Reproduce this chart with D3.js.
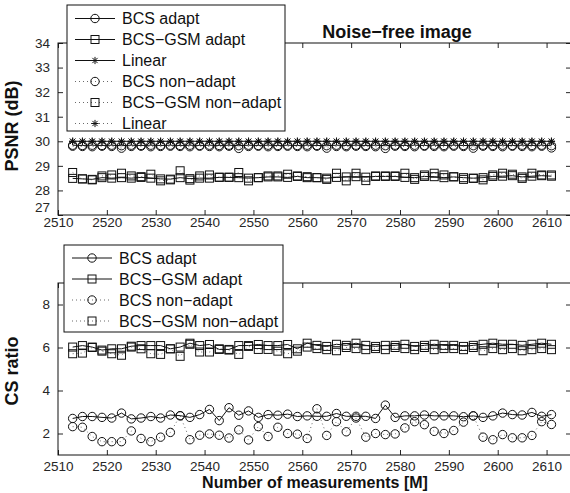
<!DOCTYPE html>
<html lang="en">
<head>
    <meta charset="UTF-8">
    <title>Noise-free image</title>
    <script src="https://d3js.org/d3.v7.min.js"></script>
    <style>
        body {
            margin: 0;
            padding: 0;
            background-color: #fff;
            font-family: "Liberation Sans", Arial, Helvetica, sans-serif;
        }
        svg { display: block; }
        .tick text { font-size: 13.5px; fill: #262626; }
        .tick line { stroke: #262626; }
        .axis-label { font-weight: bold; fill: #111; }
        .legend-text { font-size: 16px; fill: #111; }
    </style>
</head>
<body>
    <div id="chart"></div>

    <script>
        // Measurement counts M (x axis)
        const measurements = [2513, 2515, 2517, 2519, 2521, 2523, 2525, 2527, 2529, 2531,
            2533, 2535, 2537, 2539, 2541, 2543, 2545, 2547, 2549, 2551,
            2553, 2555, 2557, 2559, 2561, 2563, 2565, 2567, 2569, 2571,
            2573, 2575, 2577, 2579, 2581, 2583, 2585, 2587, 2589, 2591,
            2593, 2595, 2597, 2599, 2601, 2603, 2605, 2607, 2609, 2611];

        // PSNR (dB) panel
        const psnrBcsAdapt = [29.84, 29.83, 29.84, 29.83, 29.84, 29.82, 29.84, 29.83, 29.84, 29.83,
            29.84, 29.83, 29.84, 29.83, 29.84, 29.83, 29.84, 29.82, 29.84, 29.83,
            29.84, 29.83, 29.84, 29.83, 29.84, 29.83, 29.82, 29.84, 29.83, 29.84,
            29.83, 29.84, 29.82, 29.84, 29.83, 29.84, 29.83, 29.84, 29.83, 29.84,
            29.83, 29.82, 29.84, 29.83, 29.84, 29.83, 29.84, 29.83, 29.84, 29.82];
        const psnrGsmAdapt = [28.49, 28.47, 28.45, 28.52, 28.50, 28.52, 28.50, 28.53, 28.50, 28.47,
            28.46, 28.52, 28.48, 28.50, 28.50, 28.53, 28.53, 28.52, 28.50, 28.52,
            28.55, 28.55, 28.53, 28.57, 28.52, 28.52, 28.50, 28.53, 28.55, 28.56,
            28.54, 28.57, 28.57, 28.57, 28.53, 28.52, 28.57, 28.56, 28.52, 28.55,
            28.52, 28.50, 28.52, 28.57, 28.58, 28.60, 28.55, 28.58, 28.60, 28.58];
        const psnrLinear = [30, 30, 30, 30, 30, 30, 30, 30, 30, 30,
            30, 30, 30, 30, 30, 30, 30, 30, 30, 30,
            30, 30, 30, 30, 30, 30, 30, 30, 30, 30,
            30, 30, 30, 30, 30, 30, 30, 30, 30, 30,
            30, 30, 30, 30, 30, 30, 30, 30, 30, 30];
        const psnrBcsNon = [29.80, 29.79, 29.78, 29.80, 29.79, 29.72, 29.79, 29.80, 29.78, 29.79,
            29.80, 29.79, 29.78, 29.80, 29.79, 29.78, 29.80, 29.71, 29.79, 29.80,
            29.78, 29.79, 29.80, 29.79, 29.78, 29.80, 29.72, 29.79, 29.78, 29.80,
            29.79, 29.78, 29.71, 29.80, 29.79, 29.78, 29.80, 29.79, 29.78, 29.80,
            29.79, 29.72, 29.80, 29.79, 29.78, 29.80, 29.79, 29.78, 29.80, 29.73];
        const psnrGsmNon = [28.73, 28.47, 28.43, 28.59, 28.63, 28.70, 28.59, 28.56, 28.66, 28.39,
            28.43, 28.80, 28.42, 28.59, 28.63, 28.54, 28.54, 28.73, 28.39, 28.52,
            28.59, 28.59, 28.66, 28.59, 28.56, 28.52, 28.45, 28.70, 28.39, 28.70,
            28.40, 28.59, 28.59, 28.59, 28.70, 28.45, 28.63, 28.70, 28.63, 28.56,
            28.45, 28.49, 28.43, 28.63, 28.70, 28.66, 28.49, 28.70, 28.63, 28.63];
        const psnrLinearNon = [30, 30, 30, 30, 30, 30, 30, 30, 30, 30,
            30, 30, 30, 30, 30, 30, 30, 30, 30, 30,
            30, 30, 30, 30, 30, 30, 30, 30, 30, 30,
            30, 30, 30, 30, 30, 30, 30, 30, 30, 30,
            30, 30, 30, 30, 30, 30, 30, 30, 30, 30];

        // CS ratio panel
        const csBcsAdapt = [2.70, 2.79, 2.79, 2.75, 2.72, 2.95, 2.68, 2.72, 2.79, 2.72,
            2.86, 2.83, 2.75, 2.88, 3.12, 2.60, 3.20, 2.85, 3.05, 2.75,
            2.88, 2.85, 2.90, 2.79, 2.82, 2.80, 2.80, 2.93, 2.80, 2.80,
            2.80, 2.70, 3.32, 2.75, 2.82, 2.82, 2.86, 2.82, 2.82, 2.82,
            2.78, 2.82, 2.75, 2.82, 2.95, 2.88, 2.86, 2.98, 2.80, 2.88];
        const csGsmAdapt = [6.02, 6.09, 6.02, 5.88, 5.94, 5.94, 6.06, 6.09, 6.09, 6.09,
            5.94, 6.02, 6.20, 6.09, 6.14, 5.91, 5.91, 6.09, 6.09, 6.14,
            6.09, 6.09, 6.14, 5.94, 6.20, 6.10, 6.05, 6.15, 6.10, 6.20,
            6.10, 6.05, 6.10, 6.10, 6.15, 6.05, 6.10, 6.15, 6.10, 6.10,
            6.05, 6.10, 6.15, 6.20, 6.15, 6.15, 6.10, 6.15, 6.20, 6.15];
        const csBcsNon = [2.32, 2.29, 1.86, 1.62, 1.62, 1.62, 2.12, 1.77, 1.62, 1.83,
            2.05, 2.82, 1.71, 1.92, 1.98, 1.92, 1.79, 2.17, 1.70, 2.32,
            1.86, 2.29, 2.00, 1.97, 1.77, 3.15, 1.91, 2.55, 2.08, 2.72,
            1.83, 2.00, 1.95, 1.98, 2.26, 2.55, 2.41, 2.10, 2.00, 2.14,
            2.53, 2.82, 1.83, 1.71, 1.95, 1.80, 1.80, 1.91, 2.55, 2.42];
        const csGsmNon = [5.71, 5.74, 6.00, 5.83, 5.71, 5.64, 6.02, 5.94, 5.71, 5.68,
            5.94, 5.59, 6.15, 5.79, 5.79, 5.94, 5.88, 5.68, 6.05, 5.91,
            5.91, 5.83, 5.71, 5.83, 6.02, 5.95, 5.90, 5.85, 6.00, 5.95,
            5.90, 5.95, 5.90, 6.00, 5.95, 5.90, 6.00, 5.90, 5.95, 5.95,
            5.90, 6.00, 5.85, 5.95, 5.90, 5.95, 5.85, 5.90, 5.95, 5.90];

        const psnrTicks = [27, 28, 29, 30, 31, 32, 33, 34];
        const csTicks = [2, 4, 6, 8];
        const xTicks = [2510, 2520, 2530, 2540, 2550, 2560, 2570, 2580, 2590, 2600, 2610];

        const W = 570, H = 493;
        const svg = d3.select("#chart").append("svg")
            .attr("width", W)
            .attr("height", H);

        const x = d3.scaleLinear().domain([2510, 2615]).range([58, 571]);

        // marker shapes
        function drawMarker(g, type, cx, cy) {
            if (type === "circle") {
                g.append("circle").attr("cx", cx).attr("cy", cy).attr("r", 4.2)
                    .attr("fill", "none").attr("stroke", "#111").attr("stroke-width", 1);
            } else if (type === "square") {
                g.append("rect").attr("x", cx - 4).attr("y", cy - 4)
                    .attr("width", 8).attr("height", 8)
                    .attr("fill", "none").attr("stroke", "#111").attr("stroke-width", 1);
            } else {
                const h = 3.6, d = 2.6;
                g.append("path")
                    .attr("d", `M${cx - h},${cy}H${cx + h}M${cx},${cy - h}V${cy + h}` +
                        `M${cx - d},${cy - d}L${cx + d},${cy + d}M${cx - d},${cy + d}L${cx + d},${cy - d}`)
                    .attr("stroke", "#111").attr("stroke-width", 1).attr("fill", "none");
            }
        }

        function drawPanel(opts) {
            const y = d3.scaleLinear().domain(opts.yDomain).range(opts.yRange);
            const g = svg.append("g");
            const top = opts.yRange[1], bottom = opts.yRange[0];

            // axes with inward ticks (matlab style)
            g.append("g")
                .attr("transform", `translate(0,${bottom})`)
                .call(d3.axisBottom(x).tickValues(xTicks).tickSizeInner(-5).tickSizeOuter(0)
                    .tickPadding(opts.xPad).tickFormat(d3.format("d")))
                .call(a => a.select(".domain").remove());
            g.append("g")
                .attr("transform", `translate(0,${top})`)
                .call(d3.axisTop(x).tickValues(xTicks).tickSizeInner(-5).tickSizeOuter(0).tickFormat(""))
                .call(a => a.select(".domain").remove());
            const yAx = g.append("g")
                .attr("transform", `translate(${x.range()[0]},0)`)
                .call(d3.axisLeft(y).tickValues(opts.yTicks).tickSizeInner(-5).tickSizeOuter(0)
                    .tickPadding(8).tickFormat(d3.format("d")))
                .call(a => a.select(".domain").remove());
            // lowest label sits a bit higher, like the original
            if (opts.liftFirst) {
                yAx.selectAll(".tick text").filter(d => d === opts.yTicks[0]).attr("y", -opts.liftFirst);
            }
            g.append("g")
                .attr("transform", `translate(${x.range()[1]},0)`)
                .call(d3.axisRight(y).tickValues(opts.yTicks).tickSizeInner(-5).tickSizeOuter(0).tickFormat(""))
                .call(a => a.select(".domain").remove());

            g.append("rect")
                .attr("x", x.range()[0]).attr("y", top)
                .attr("width", x.range()[1] - x.range()[0])
                .attr("height", bottom - top)
                .attr("fill", "none").attr("stroke", "#111").attr("stroke-width", 1);

            // series
            opts.series.forEach(s => {
                const pts = measurements.map((m, i) => [x(m), y(s.values[i])]);
                g.append("path")
                    .attr("d", d3.line()(pts))
                    .attr("fill", "none")
                    .attr("stroke", s.dotted ? "#444" : "#111")
                    .attr("stroke-width", s.dotted ? 0.8 : 1)
                    .attr("stroke-dasharray", s.dotted ? "1,3" : null);
                const mg = g.append("g");
                pts.forEach(p => drawMarker(mg, s.marker, p[0], p[1]));
            });

            // legend
            const lg = svg.append("g");
            const L = opts.legend;
            lg.append("rect")
                .attr("x", L.x).attr("y", L.y).attr("width", L.w).attr("height", L.h)
                .attr("fill", "#fff").attr("stroke", "#111").attr("stroke-width", 1);
            opts.series.forEach((s, i) => {
                const cy = L.y + L.first + i * L.step;
                lg.append("line")
                    .attr("x1", L.x + 8).attr("x2", L.x + 48)
                    .attr("y1", cy).attr("y2", cy)
                    .attr("stroke", s.dotted ? "#444" : "#111")
                    .attr("stroke-width", s.dotted ? 0.8 : 1)
                    .attr("stroke-dasharray", s.dotted ? "1,3" : null);
                drawMarker(lg, s.marker, L.x + 28, cy);
                lg.append("text")
                    .attr("class", "legend-text")
                    .attr("x", L.x + 55).attr("y", cy + 5.5)
                    .text(s.name);
            });

            // y label
            svg.append("text")
                .attr("class", "axis-label")
                .attr("transform", `translate(${opts.ylabX},${opts.ylabY}) rotate(-90)`)
                .attr("text-anchor", "middle")
                .style("font-size", "18px")
                .text(opts.ylabel);
        }

        drawPanel({
            yDomain: [27, 34], yRange: [215, 43], yTicks: psnrTicks, xPad: 2, liftFirst: 8,
            ylabel: "PSNR (dB)", ylabX: 18, ylabY: 126,
            legend: { x: 67, y: 5, w: 218, h: 126, first: 13.5, step: 21 },
            series: [
                { name: "BCS adapt", values: psnrBcsAdapt, marker: "circle", dotted: false },
                { name: "BCS\u2212GSM adapt", values: psnrGsmAdapt, marker: "square", dotted: false },
                { name: "Linear", values: psnrLinear, marker: "star", dotted: false },
                { name: "BCS non\u2212adapt", values: psnrBcsNon, marker: "circle", dotted: true },
                { name: "BCS\u2212GSM non\u2212adapt", values: psnrGsmNon, marker: "square", dotted: true },
                { name: "Linear", values: psnrLinearNon, marker: "star", dotted: true }
            ]
        });

        drawPanel({
            yDomain: [1, 9], yRange: [455, 283], yTicks: csTicks, xPad: 6,
            ylabel: "CS ratio", ylabX: 18, ylabY: 371,
            legend: { x: 64, y: 245, w: 219, h: 87, first: 13, step: 21 },
            series: [
                { name: "BCS adapt", values: csBcsAdapt, marker: "circle", dotted: false },
                { name: "BCS\u2212GSM adapt", values: csGsmAdapt, marker: "square", dotted: false },
                { name: "BCS non\u2212adapt", values: csBcsNon, marker: "circle", dotted: true },
                { name: "BCS\u2212GSM non\u2212adapt", values: csGsmNon, marker: "square", dotted: true }
            ]
        });

        // title and x label
        svg.append("text")
            .attr("class", "axis-label")
            .attr("x", 397).attr("y", 38)
            .attr("text-anchor", "middle")
            .style("font-size", "18px")
            .text("Noise\u2212free image");

        svg.append("text")
            .attr("class", "axis-label")
            .attr("x", 315).attr("y", 488)
            .attr("text-anchor", "middle")
            .style("font-size", "16px")
            .text("Number of measurements [M]");
    </script>
</body>
</html>
